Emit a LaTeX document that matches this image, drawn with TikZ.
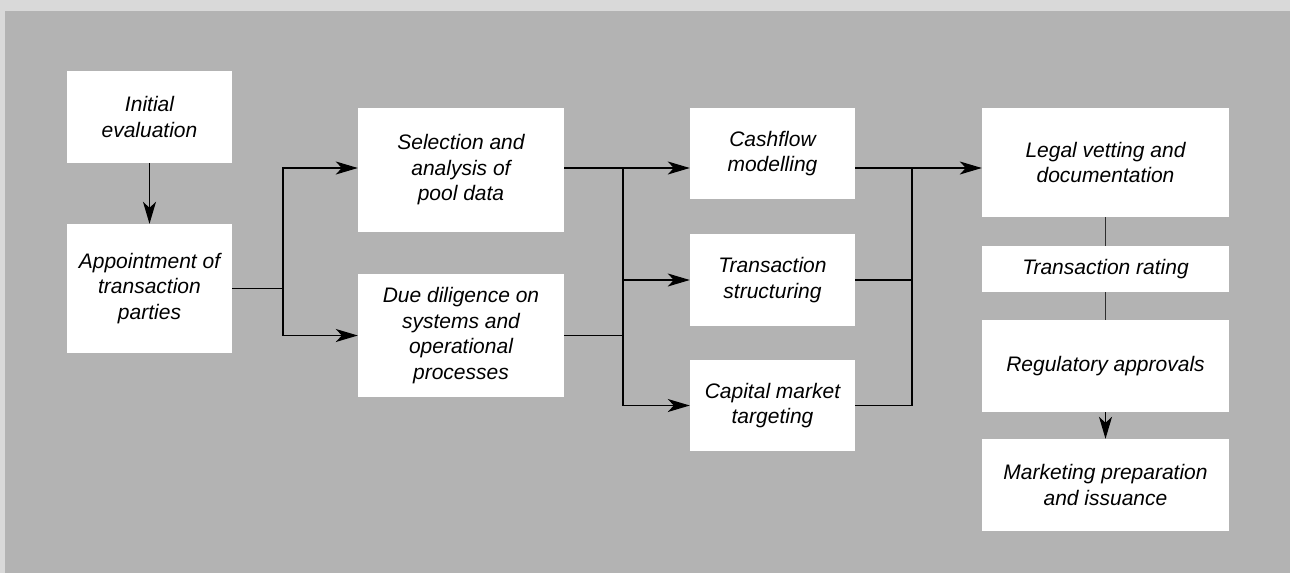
\documentclass[tikz,border=0pt]{standalone}
\usepackage{fontspec}
\setmainfont{Liberation Sans}
\usetikzlibrary{arrows.meta,calc}
\definecolor{framebg}{HTML}{D9D9D9}
\definecolor{panelbg}{HTML}{B3B3B3}
\definecolor{linkgray}{HTML}{2E2E2E}
\tikzset{
  stage/.style={fill=white, draw=none, inner sep=0pt, align=center,
    font=\fontsize{21}{25.5}\selectfont\itshape},
  link/.style={draw=black, line width=1.3pt},
  flow/.style={link, -{Stealth[length=22pt,width=13pt,inset=6pt]}},
  spine/.style={draw=linkgray, line width=1.6pt}
}
\begin{document}
\begin{tikzpicture}[x=1pt, y=-1pt]
  \useasboundingbox (0,0) rectangle (1290,573);
  \fill[framebg] (0,0) rectangle (1290,573);
  \fill[panelbg] (5,11) rectangle (1290,573);

  % stages
  \node[stage, minimum width=165pt, minimum height=92pt]  (init)   at (149.5,117)   {Initial\\evaluation};
  \node[stage, minimum width=165pt, minimum height=129pt] (appt)   at (149.5,288.5) {Appointment of\\transaction\\parties};
  \node[stage, minimum width=206pt, minimum height=124pt] (sel)    at (461,170)     {Selection and\\analysis of\\pool data};
  \node[stage, minimum width=206pt, minimum height=123pt] (due)    at (461,335.5)   {Due diligence on\\systems and\\operational\\processes};
  \node[stage, minimum width=165pt, minimum height=91pt]  (cash)   at (772.5,153.5) {Cashflow\\modelling};
  \node[stage, minimum width=165pt, minimum height=92pt]  (struct) at (772.5,280)   {Transaction\\structuring};
  \node[stage, minimum width=165pt, minimum height=91pt]  (cap)    at (772.5,405.5) {Capital market\\targeting};
  \node[stage, minimum width=247pt, minimum height=109pt] (legal)  at (1105.5,162.5) {Legal vetting and\\documentation};
  \node[stage, minimum width=247pt, minimum height=46pt]  (rating) at (1105.5,269)   {Transaction rating};
  \node[stage, minimum width=247pt, minimum height=92pt]  (reg)    at (1105.5,366)   {Regulatory approvals};
  \node[stage, minimum width=247pt, minimum height=92pt]  (mkt)    at (1105.5,485)   {Marketing preparation\\and issuance};

  % routing helpers
  \coordinate (row) at (0,168);
  \coordinate (j1) at (283,0);
  \coordinate (j2) at (623,0);
  \coordinate (j3) at (912,0);

  % first column
  \draw[flow] (init) -- (appt);
  \draw[link] (appt.east) -- (j1 |- appt.east);
  \draw[flow] (j1 |- appt.east) |- (sel.west |- row);
  \draw[flow] (j1 |- appt.east) |- (due.west);

  % second column
  \draw[flow] (sel.east |- row) -- (cash.west |- row);
  \draw[link] (due.east) -- (j2 |- due.east);
  \draw[link] (j2 |- row) -- (j2 |- cap.west);
  \draw[flow] (j2 |- struct.west) -- (struct.west);
  \draw[flow] (j2 |- cap.west) -- (cap.west);

  % third column
  \draw[flow] (cash.east |- row) -- (legal.west |- row);
  \draw[link] (struct.east) -- (j3 |- struct.east);
  \draw[link] (cap.east) -| (j3 |- row);

  % final column
  \draw[spine] (legal) -- (rating);
  \draw[spine] (rating) -- (reg);
  \draw[flow] (reg) -- (mkt);
\end{tikzpicture}
\end{document}
